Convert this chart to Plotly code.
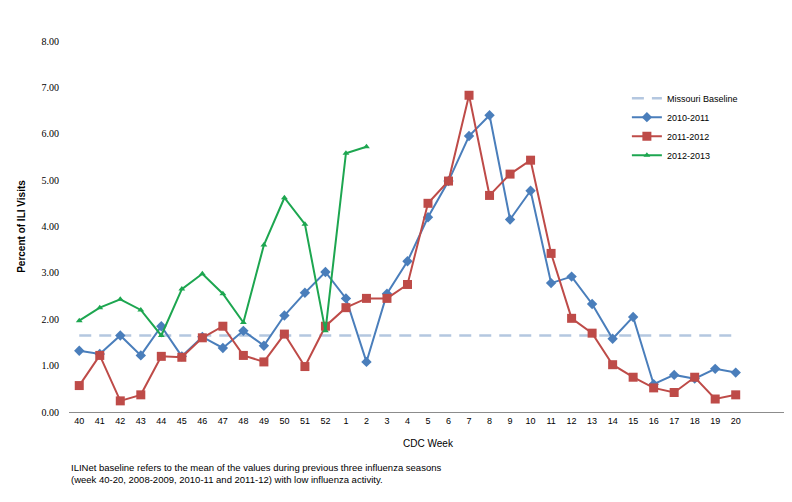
import plotly.graph_objects as go

weeks = [str(w) for w in range(40, 53)] + [str(w) for w in range(1, 21)]

season_2010_2011 = [
    1.32, 1.25, 1.65, 1.22, 1.85, 1.20, 1.62, 1.38, 1.75, 1.43, 2.08, 2.57, 3.02,
    2.45, 1.08, 2.55, 3.25, 4.20, 4.98, 5.95, 6.40, 4.15, 4.77, 2.78, 2.92, 2.33,
    1.58, 2.05, 0.60, 0.80, 0.72, 0.93, 0.85,
]
season_2011_2012 = [
    0.57, 1.22, 0.24, 0.37, 1.20, 1.18, 1.60, 1.85, 1.22, 1.08, 1.68, 0.98, 1.85,
    2.25, 2.45, 2.45, 2.75, 4.50, 4.98, 6.83, 4.67, 5.13, 5.43, 3.42, 2.02, 1.70,
    1.02, 0.75, 0.52, 0.42, 0.75, 0.28, 0.37,
]
season_2012_2013 = [
    1.97, 2.25, 2.43, 2.20, 1.65, 2.65, 2.98, 2.55, 1.93, 3.60, 4.62, 4.05, 1.75,
    5.58, 5.72,
]
missouri_baseline = 1.65

fig = go.Figure()

fig.add_trace(go.Scatter(
    x=weeks, y=[missouri_baseline] * len(weeks), name="Missouri Baseline",
    mode="lines", line=dict(color="#B4C7E0", width=2.5, dash="12px,8px"),
))
fig.add_trace(go.Scatter(
    x=weeks, y=season_2010_2011, name="2010-2011", mode="lines+markers",
    line=dict(color="#4A7EBB", width=2),
    marker=dict(symbol="diamond", size=8, color="#4A7EBB"),
))
fig.add_trace(go.Scatter(
    x=weeks, y=season_2011_2012, name="2011-2012", mode="lines+markers",
    line=dict(color="#BE4B48", width=2),
    marker=dict(symbol="square", size=9, color="#BE4B48"),
))
fig.add_trace(go.Scatter(
    x=weeks[:len(season_2012_2013)], y=season_2012_2013, name="2012-2013",
    mode="lines+markers", line=dict(color="#1DA650", width=2),
    marker=dict(symbol="triangle-up", size=6, color="#1DA650"),
))

fig.update_layout(
    width=792, height=502,
    margin=dict(l=59, r=13, t=33, b=98),
    plot_bgcolor="white", paper_bgcolor="white",
    font=dict(family="Liberation Sans", size=9, color="#000000"),
    legend=dict(
        x=0.777, y=0.885, xanchor="left", yanchor="top",
        font=dict(size=9), tracegroupgap=0, itemwidth=30,
        bgcolor="rgba(0,0,0,0)",
    ),
    xaxis=dict(
        type="category", categoryarray=weeks, range=[-0.5, 34.5],
        showline=True, linecolor="#8C8C8C", linewidth=1,
        showgrid=False, ticks="", tickfont=dict(size=9),
        title=dict(text="CDC Week", font=dict(size=10), standoff=15),
    ),
    yaxis=dict(
        range=[0, 8], dtick=1, tickformat=".2f",
        showline=False, showgrid=False, zeroline=False, ticks="",
        ticklabelstandoff=9,
        tickfont=dict(family="Liberation Serif", size=10),
        title=dict(text="<b>Percent of ILI Visits</b>", font=dict(size=10), standoff=14),
    ),
)

fig.add_annotation(
    text="ILINet baseline refers to the mean of the values during previous three influenza seasons"
         "<br>(week 40-20, 2008-2009, 2010-11 and 2011-12) with low influenza activity.",
    xref="paper", yref="paper", x=0.0, y=-0.13, xanchor="left", yanchor="top",
    align="left", showarrow=False, font=dict(size=9.5),
)

fig.write_html("out.html")
